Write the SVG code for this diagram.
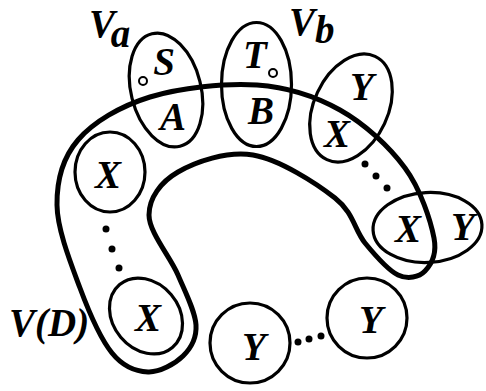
<svg xmlns="http://www.w3.org/2000/svg" width="486" height="391" viewBox="0 0 486 391">
<style>
.band{fill:none;stroke:#000;stroke-width:5;stroke-linejoin:round}
.node{fill:none;stroke:#000;stroke-width:3.2}
.small{fill:none;stroke:#000;stroke-width:2}
.dot{fill:#000}
text{font-family:"Liberation Serif","Times New Roman",serif;font-weight:bold;font-style:italic;font-size:39px;fill:#000}
.m{text-anchor:middle}
</style>
<rect width="486" height="391" fill="#fff"/>
<g id="connectors">
<path id="VD-band" class="band" d="M148,372 C136.2,371.5 123.3,367 112,353 C100.7,339 89.2,312.7 80,288 C70.8,263.3 57.3,229.7 57,205 C56.7,180.3 62.5,158 78,140 C93.5,122 120.2,106.2 150,97 C179.8,87.8 225.3,82.8 257,85 C288.7,87.2 315.3,96.2 340,110 C364.7,123.8 389.3,146.7 405,168 C420.7,189.3 430.7,220.8 434,238 C437.3,255.2 431,264.8 425,271 C419,277.2 408,279.7 398,275 C388,270.3 375.5,255.8 365,243 C354.5,230.2 353.7,212.7 335,198 C316.3,183.3 279.2,159.3 253,155 C226.8,150.7 195.3,162 178,172 C160.7,182 149,197.8 149,215 C149,232.2 170.2,256.7 178,275 C185.8,293.3 195.2,311.5 196,325 C196.8,338.5 191,348.2 183,356 C175,363.8 159.8,372.5 148,372 Z"/>
<circle class="dot" cx="106" cy="229" r="3.5"/>
<circle class="dot" cx="112" cy="249" r="3.5"/>
<circle class="dot" cx="119" cy="268" r="3.5"/>
<circle class="dot" cx="365" cy="164" r="3.5"/>
<circle class="dot" cx="376" cy="176" r="3.5"/>
<circle class="dot" cx="387" cy="188" r="3.5"/>
<circle class="dot" cx="298" cy="342" r="3.5"/>
<circle class="dot" cx="309" cy="339" r="3.5"/>
<circle class="dot" cx="321" cy="336" r="3.5"/>
</g>
<g id="label-VD"><text x="9" y="336">V(D)</text></g>
<g id="label-Va"><text x="89" y="37">V<tspan dy="10">a</tspan></text></g>
<g id="label-Vb"><text x="289" y="35">V<tspan dy="8">b</tspan></text></g>
<g id="node-SA">
<ellipse class="node" cx="166" cy="90" rx="35" ry="58" transform="rotate(-14 166 90)"/>
<circle class="small" cx="143" cy="81" r="4"/>
<text class="m" x="164" y="75">S</text>
<text class="m" x="173" y="130">A</text>
</g>
<g id="node-TB">
<ellipse class="node" cx="256.5" cy="84.5" rx="35" ry="62"/>
<circle class="small" cx="273" cy="73" r="4"/>
<text class="m" x="255" y="68">T</text>
<text class="m" x="261" y="124">B</text>
</g>
<g id="node-YX-top">
<ellipse class="node" cx="351" cy="108" rx="37" ry="57" transform="rotate(25 351 108)"/>
<text class="m" x="362" y="100">Y</text>
<text class="m" x="337" y="147">X</text>
</g>
<g id="node-XY-right">
<ellipse class="node" cx="427.5" cy="227.5" rx="54.5" ry="35" transform="rotate(-3 427.5 227.5)"/>
<text class="m" x="408" y="242">X</text>
<text class="m" x="463" y="240">Y</text>
</g>
<g id="node-X-left">
<ellipse class="node" cx="110" cy="172" rx="35" ry="40"/>
<text class="m" x="108" y="188">X</text>
</g>
<g id="node-X-bottom">
<ellipse class="node" cx="146" cy="316" rx="33" ry="41" transform="rotate(-40 146 316)"/>
<text class="m" x="148" y="331">X</text>
</g>
<g id="node-Y-1">
<circle class="node" cx="250" cy="343" r="40"/>
<text class="m" x="254" y="360">Y</text>
</g>
<g id="node-Y-2">
<circle class="node" cx="367" cy="318" r="40"/>
<text class="m" x="371" y="333">Y</text>
</g>
</svg>
